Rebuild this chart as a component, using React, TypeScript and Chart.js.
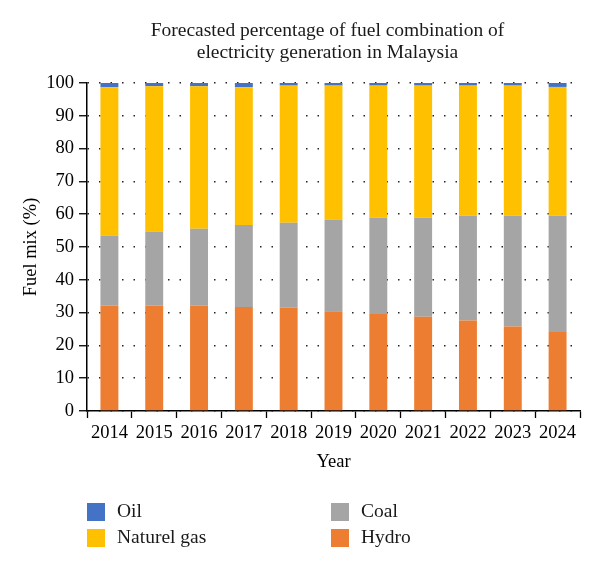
import React, { useEffect, useRef } from "react";
import { Chart, registerables } from "chart.js";

Chart.register(...registerables);

const years = ["2014", "2015", "2016", "2017", "2018", "2019", "2020", "2021", "2022", "2023", "2024"];
const hydro = [32.2, 32.2, 32.2, 31.7, 31.5, 30.4, 29.6, 28.7, 27.6, 25.8, 24.1];
const coal = [21.3, 22.5, 23.4, 25.0, 25.9, 28.0, 29.3, 30.2, 31.9, 33.7, 35.4];
const naturelGas = [45.2, 44.3, 43.4, 42.0, 41.8, 40.8, 40.3, 40.3, 39.7, 39.7, 39.3];
const oil = [1.3, 1.0, 1.0, 1.3, 0.8, 0.8, 0.8, 0.8, 0.8, 0.8, 1.2];

const titleLines = ["Forecasted percentage of fuel combination of", "electricity generation in Malaysia"];
const xTitle = "Year";
const yTitle = "Fuel mix (%)";

const COLORS = {
  oil: "#4472C4",
  gas: "#FFC000",
  coal: "#A5A5A5",
  hydro: "#ED7D31",
};

const FONT = "'Liberation Serif', 'DejaVu Serif', serif";

const legendItems = [
  { label: "Oil", color: COLORS.oil, col: 0, row: 0 },
  { label: "Naturel gas", color: COLORS.gas, col: 0, row: 1 },
  { label: "Coal", color: COLORS.coal, col: 1, row: 0 },
  { label: "Hydro", color: COLORS.hydro, col: 1, row: 1 },
];

const titleAndLegendPlugin = {
  id: "titleAndLegend",
  afterDraw(chart: any) {
    const { ctx, chartArea } = chart;
    ctx.save();
    // title
    ctx.fillStyle = "#1a1a1a";
    ctx.font = `19.5px ${FONT}`;
    ctx.textAlign = "center";
    ctx.textBaseline = "middle";
    const cx = (chartArea.left + chartArea.right) / 2 - 6;
    titleLines.forEach((line, i) => {
      ctx.fillText(line, cx, 23 + i * 22);
    });
    // legend
    const colX = [chartArea.left, chartArea.left + 244];
    const rowY = [chartArea.bottom + 101, chartArea.bottom + 127];
    ctx.textAlign = "left";
    ctx.font = `19.5px ${FONT}`;
    legendItems.forEach((it) => {
      const x = colX[it.col];
      const y = rowY[it.row];
      ctx.fillStyle = it.color;
      ctx.fillRect(x, y - 9, 18, 18);
      ctx.fillStyle = "#1a1a1a";
      ctx.fillText(it.label, x + 30, y);
    });
    ctx.restore();
  },
};

export default function App() {
  const canvasRef = useRef<HTMLCanvasElement | null>(null);

  useEffect(() => {
    if (!canvasRef.current) return;
    const chart = new Chart(canvasRef.current, {
      type: "bar",
      data: {
        labels: years,
        datasets: [
          { label: "Hydro", data: hydro, backgroundColor: COLORS.hydro },
          { label: "Coal", data: coal, backgroundColor: COLORS.coal },
          { label: "Naturel gas", data: naturelGas, backgroundColor: COLORS.gas },
          { label: "Oil", data: oil, backgroundColor: COLORS.oil },
        ],
      },
      options: {
        animation: false,
        responsive: true,
        maintainAspectRatio: false,
        datasets: { bar: { barPercentage: 0.4, categoryPercentage: 1.0 } },
        layout: { padding: { top: 75, right: 12, bottom: 92, left: 0 } },
        plugins: {
          legend: { display: false },
          title: { display: false },
          tooltip: { enabled: false },
        },
        scales: {
          x: {
            stacked: true,
            grid: {
              offset: true,
              drawOnChartArea: false,
              drawTicks: true,
              tickLength: 7,
              color: "#000",
              tickColor: "#000",
              tickWidth: 1.3,
            },
            border: { display: true, color: "#000", width: 1.5 },
            ticks: {
              color: "#000",
              font: { family: FONT, size: 18.5 },
              padding: 4,
              maxRotation: 0,
              autoSkip: false,
            },
            title: {
              display: true,
              text: xTitle,
              color: "#000",
              font: { family: FONT, size: 18.5 },
              padding: { top: 0, bottom: 0 },
            },
            afterFit(scale: any) {
              scale.height = 62;
            },
          },
          y: {
            stacked: true,
            min: 0,
            max: 100,
            ticks: {
              stepSize: 10,
              color: "#000",
              font: { family: FONT, size: 18.5 },
              padding: 5,
            },
            grid: {
              color: "#222",
              lineWidth: 1.5,
              drawTicks: true,
              tickLength: 8,
              tickColor: "#000",
              tickWidth: 1.3,
              tickBorderDash: [],
            },
            border: { display: true, color: "#000", width: 1.5, dash: [1.5, 10] },
            title: {
              display: true,
              text: yTitle,
              color: "#000",
              font: { family: FONT, size: 18.5 },
              padding: { top: 12, bottom: 0 },
            },
            afterFit(scale: any) {
              scale.width = 79;
            },
          },
        },
      },
      plugins: [titleAndLegendPlugin],
    });
    return () => chart.destroy();
  }, []);

  return (
    <div style={{ width: "584px", height: "557px", position: "relative" }}>
      <canvas ref={canvasRef} />
    </div>
  );
}
